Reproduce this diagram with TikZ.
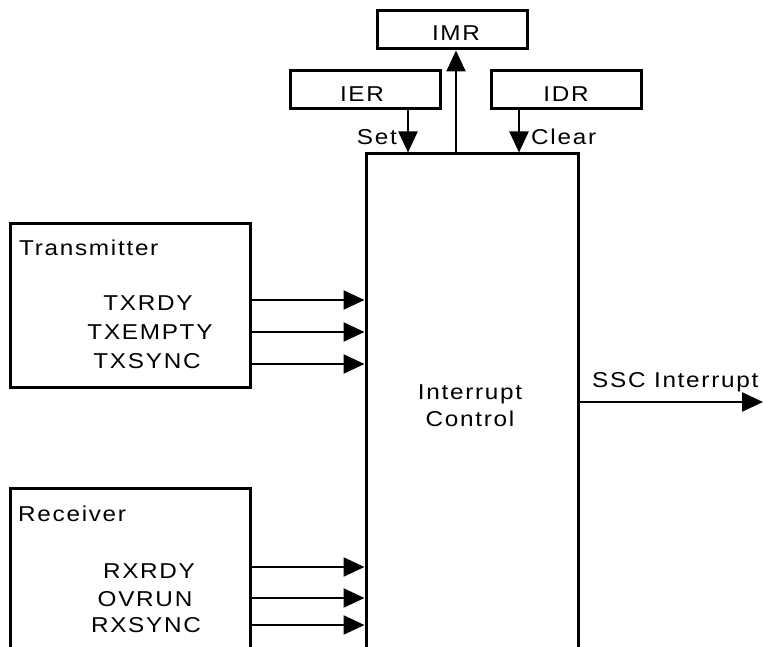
\documentclass[tikz,border=0pt]{standalone}
\usepackage{fontspec}
\setmainfont{Liberation Sans}[FakeStretch=1.13, LetterSpace=8]
\usetikzlibrary{arrows.meta}
\begin{document}
\begin{tikzpicture}[x=1pt,y=-1pt,
  box/.style={draw, line width=3pt, inner sep=0pt},
  lbl/.style={inner sep=0pt, font=\fontsize{21.5}{25}\selectfont},
  arr/.style={line width=2.4pt, -{Triangle[length=21pt,width=19pt]}}]
\clip (0,0) rectangle (763,647);
% boxes
\node[box, minimum width=150pt, minimum height=38pt] (imr) at (452,30) {};
\node[box, minimum width=150pt, minimum height=38pt] (ier) at (365,90) {};
\node[box, minimum width=150pt, minimum height=38pt] (idr) at (566,90) {};
\node[box, minimum width=212pt, minimum height=546pt] (ic) at (472,427) {};
\node[box, minimum width=240pt, minimum height=163pt] (tx) at (130,305.5) {};
\node[box, minimum width=240pt, minimum height=212pt] (rx) at (130,594) {};
% texts
\node[lbl, anchor=base] (timr) at (456,41) {IMR};
\node[lbl, anchor=base] (tier) at (362,102) {IER};
\node[lbl, anchor=base] (tidr) at (566,102) {IDR};
\node[lbl, anchor=base east] (tset) at (397,145) {Set};
\node[lbl, anchor=base west] (tclr) at (531,145) {Clear};
\node[lbl, anchor=base west] (ttx) at (19,255) {Transmitter};
\node[lbl, anchor=base west] (trx) at (18,521) {Receiver};
\node[lbl, anchor=base] (t1) at (148,310) {TXRDY};
\node[lbl, anchor=base] (t2) at (150,339) {TXEMPTY};
\node[lbl, anchor=base] (t3) at (147,368) {TXSYNC};
\node[lbl, anchor=base] (r1) at (149,578) {RXRDY};
\node[lbl, anchor=base] (r2) at (145,606) {OVRUN};
\node[lbl, anchor=base] (r3) at (146,632) {RXSYNC};
\node[lbl, anchor=base] (ic1) at (470,399) {Interrupt};
\node[lbl, anchor=base] (ic2) at (470,426) {Control};
\node[lbl, anchor=base west] (tssc) at (592,387) {SSC Interrupt};
% vertical connectors
\draw[arr] ([xshift=43pt]ier.south) -- ([xshift=43pt]ier.south |- ic.north);
\draw[arr] ([xshift=-47pt]idr.south) -- ([xshift=-47pt]idr.south |- ic.north);
\draw[arr] ([xshift=-16pt]ic.north) -- ([xshift=-16pt]ic.north |- imr.south);
% horizontal connectors
\coordinate (y1) at (0,300);
\coordinate (y2) at (0,332);
\coordinate (y3) at (0,364);
\coordinate (y4) at (0,567);
\coordinate (y5) at (0,598);
\coordinate (y6) at (0,625);
\coordinate (ysc) at (0,402);
\coordinate (outend) at (763,402);
\foreach \c/\b in {y1/tx, y2/tx, y3/tx, y4/rx, y5/rx, y6/rx}
  \draw[arr] (\b.east |- \c) -- (ic.west |- \c);
\draw[arr] (ic.east |- ysc) -- (outend);
\end{tikzpicture}
\end{document}
